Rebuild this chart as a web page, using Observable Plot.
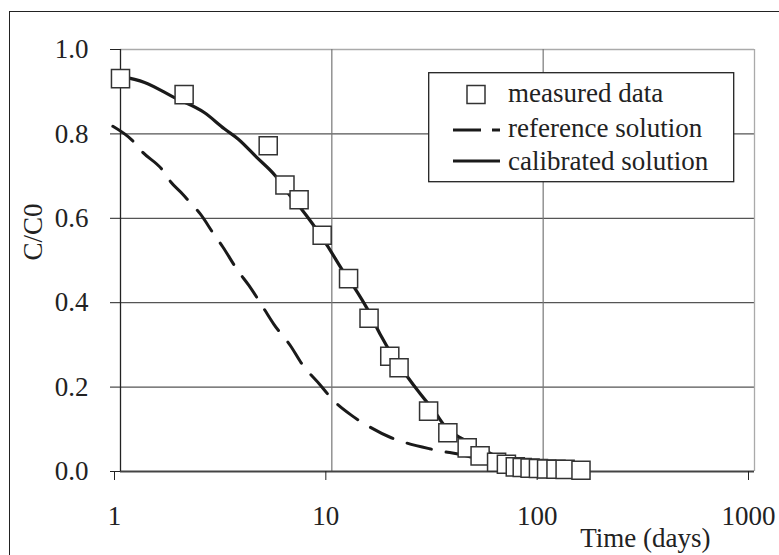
<!DOCTYPE html>
<html>
<head>
<meta charset="utf-8">
<script src="https://cdn.jsdelivr.net/npm/d3@7"></script>
<script src="https://cdn.jsdelivr.net/npm/@observablehq/plot@0.6"></script>
<style>
  body { margin: 0; background: #fff; }
  #wrap { position: relative; width: 779px; height: 555px; overflow: hidden; background: #fff;
          font-family: "Liberation Serif", "Times New Roman", serif; color: #222; }
  #frame { position: absolute; left: 9px; top: 11px; width: 900px; height: 700px;
           border-left: 1.5px solid #222; border-top: 1.5px solid #222; pointer-events: none; }
  #legend { position: absolute; left: 428px; top: 72px; }
</style>
</head>
<body>
<div id="wrap"><div id="frame"></div></div>
<script>
// Measured data (time in days, C/C0)
const measuredT = [1, 2, 5, 6, 7, 9, 12, 15, 18.8, 20.8, 28.7, 35.4, 43.7, 50.3, 60.2, 67, 73.8, 79.6, 86.7, 95, 103.8, 115, 127, 151];
const measuredC = [0.931, 0.893, 0.772, 0.679, 0.644, 0.560, 0.457, 0.363, 0.273, 0.246, 0.143, 0.092, 0.056, 0.037, 0.022, 0.017, 0.011, 0.0095, 0.008, 0.007, 0.006, 0.0055, 0.005, 0.003];

// Reference solution (dashed)
const refT = [0.92, 1.14, 1.27, 1.57, 1.73, 1.98, 2.11, 2.38, 2.76, 3.05, 3.59, 4.05, 4.77, 5.3, 6.43, 7.17, 8.81, 10.1, 12.4, 14.7, 19.1, 22.4, 29, 34, 39, 44, 50, 60];
const refC = [0.818, 0.784, 0.757, 0.716, 0.686, 0.656, 0.640, 0.611, 0.563, 0.532, 0.476, 0.441, 0.386, 0.350, 0.295, 0.257, 0.205, 0.170, 0.133, 0.109, 0.080, 0.068, 0.054, 0.047, 0.042, 0.036, 0.030, 0.022];

// Calibrated solution (solid)
const calT = [1, 1.3, 1.8, 2.5, 3.1, 3.6, 4.4, 5.4, 6.2, 7.1, 8.1, 9.5, 11.2, 12.9, 14.7, 16.9, 19.6, 22.6, 26.2, 30.3, 35.6, 39, 44, 48, 55, 62, 70, 80, 90, 100];
const calC = [0.937, 0.922, 0.886, 0.850, 0.812, 0.788, 0.745, 0.701, 0.660, 0.625, 0.587, 0.536, 0.478, 0.433, 0.386, 0.326, 0.271, 0.227, 0.184, 0.145, 0.098, 0.085, 0.070, 0.058, 0.045, 0.034, 0.026, 0.018, 0.013, 0.010];

const xTicks = [1, 10, 100, 1000];
const yTicks = [0, 0.2, 0.4, 0.6, 0.8, 1.0];
const yGrid = [0.2, 0.4, 0.6, 0.8];
const xGrid = [10, 100];
const legendLabels = ["measured data", "reference solution", "calibrated solution"];
const xLabel = "Time (days)";
const yLabel = "C/C0";

const measured = measuredT.map((t, i) => ({t, c: measuredC[i]}));
const ref = refT.map((t, i) => ({t, c: refC[i]}));
const cal = calT.map((t, i) => ({t, c: calC[i]}));

const chart = Plot.plot({
  width: 779,
  height: 555,
  marginLeft: 120,
  marginRight: 25,
  marginTop: 49,
  marginBottom: 84,
  style: {fontFamily: "'Liberation Serif', 'Times New Roman', serif", fontSize: "27px", color: "#222", background: "transparent", overflow: "visible"},
  x: {type: "log", domain: [1, 1000]},
  y: {domain: [0, 1]},
  marks: [
    Plot.ruleY(yGrid, {stroke: "#555", strokeWidth: 1.2}),
    Plot.ruleY([1], {stroke: "#aaa", strokeWidth: 1.3}),
    Plot.ruleX(xGrid, {stroke: "#777", strokeWidth: 1.2}),
    Plot.ruleX([1000], {stroke: "#aaa", strokeWidth: 1.3}),
    Plot.ruleY([0], {stroke: "#444", strokeWidth: 2}),
    Plot.ruleX([1], {stroke: "#222", strokeWidth: 1.3}),
    Plot.axisX({ticks: xTicks, tickFormat: d => String(d), tickSize: 9, tickPadding: 25, dx: -6, label: null, stroke: "#222"}),
    Plot.axisY({ticks: yTicks, tickFormat: d3.format(".1f"), tickSize: 10, tickPadding: 22, label: null, stroke: "#222"}),
    Plot.line(ref, {x: "t", y: "c", stroke: "#1a1a1a", strokeWidth: 3, strokeDasharray: "25,15", curve: "monotone-x"}),
    Plot.line(cal, {x: "t", y: "c", stroke: "#1a1a1a", strokeWidth: 3.2, curve: "monotone-x"}),
    Plot.dot(measured, {x: "t", y: "c", symbol: "square", r: 10.2, fill: "white", stroke: "#333", strokeWidth: 1.5}),
    Plot.text([xLabel], {frameAnchor: "bottom-right", textAnchor: "end", lineAnchor: "middle", dx: -44, dy: 67, fill: "#222"}),
    Plot.text([yLabel], {frameAnchor: "left", rotate: -90, lineAnchor: "middle", dx: -87, fill: "#222"})
  ]
});
chart.style.position = "absolute";
chart.style.left = "0px";
chart.style.top = "0px";
const wrap = document.getElementById("wrap");
wrap.insertBefore(chart, wrap.firstChild);

// Legend overlay inside the plot area
const lg = d3.select("#wrap").append("svg")
  .attr("id", "legend").attr("width", 308).attr("height", 112)
  .style("font-family", "'Liberation Serif', 'Times New Roman', serif")
  .style("font-size", "27px");
lg.append("rect").attr("x", 0.7).attr("y", 0.7).attr("width", 305).attr("height", 109)
  .attr("fill", "white").attr("stroke", "#222").attr("stroke-width", 1.3);
const baselines = [30, 65, 98];
const mids = [22.5, 58, 89];
lg.append("rect").attr("x", 39).attr("y", mids[0] - 9).attr("width", 18).attr("height", 18)
  .attr("fill", "white").attr("stroke", "#333").attr("stroke-width", 1.5);
lg.append("line").attr("x1", 25).attr("x2", 72).attr("y1", mids[1]).attr("y2", mids[1])
  .attr("stroke", "#1a1a1a").attr("stroke-width", 3.2).attr("stroke-dasharray", "28,11");
lg.append("line").attr("x1", 25).attr("x2", 72).attr("y1", mids[2]).attr("y2", mids[2])
  .attr("stroke", "#1a1a1a").attr("stroke-width", 3.2);
lg.selectAll("text.lab").data(legendLabels).join("text").attr("class", "lab")
  .attr("x", 80).attr("y", (d, i) => baselines[i]).attr("fill", "#222").text(d => d);
</script>
</body>
</html>
